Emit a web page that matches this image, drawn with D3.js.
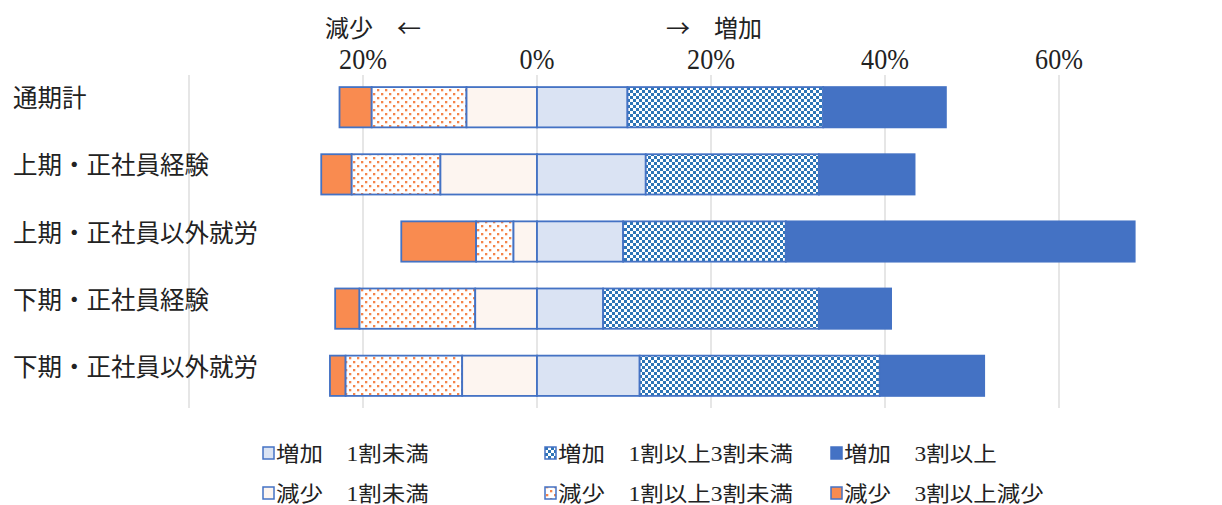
<!DOCTYPE html>
<html><head><meta charset="utf-8">
<script src="https://cdn.jsdelivr.net/npm/d3@7"></script>
<style>body{margin:0;background:#fff}svg{display:block}text{font-family:"Liberation Serif","Noto Sans CJK JP",serif;fill:#222}</style>
</head><body><div id="c"></div>
<script>
const categories = ["通期計","上期・正社員経験","上期・正社員以外就労","下期・正社員経験","下期・正社員以外就労"];
const inc1 = [10.4, 12.5, 9.9, 7.6, 11.8];   // 増加 1割未満
const inc13 = [22.5, 19.9, 18.7, 24.8, 27.6]; // 増加 1割以上3割未満
const inc3 = [14.1, 11.0, 40.1, 8.3, 12.0];   // 増加 3割以上
const dec1 = [8.1, 11.1, 2.7, 7.1, 8.6];      // 減少 1割未満
const dec13 = [10.9, 10.2, 4.3, 13.3, 13.4];  // 減少 1割以上3割未満
const dec3 = [3.7, 3.5, 8.6, 2.8, 1.8];       // 減少 3割以上減少
const tickValues = [-40, -20, 0, 20, 40, 60];
const tickLabels = ["", "20%", "0%", "20%", "40%", "60%"];
const legendLabels = ["増加　1割未満","増加　1割以上3割未満","増加　3割以上","減少　1割未満","減少　1割以上3割未満","減少　3割以上減少"];

const W = 1222, H = 505;
const svg = d3.select("#c").append("svg").attr("width", W).attr("height", H);
const defs = svg.append("defs");
const pd = defs.append("pattern").attr("id","dots").attr("patternUnits","userSpaceOnUse").attr("width",8).attr("height",8);
pd.append("rect").attr("width",8).attr("height",8).attr("fill","#fff");
pd.append("rect").attr("x",1).attr("y",1).attr("width",2.3).attr("height",2.3).attr("fill","#F4844A");
pd.append("rect").attr("x",5).attr("y",5).attr("width",2.3).attr("height",2.3).attr("fill","#F4844A");
const pc = defs.append("pattern").attr("id","check").attr("patternUnits","userSpaceOnUse").attr("width",6).attr("height",6);
pc.append("rect").attr("width",6).attr("height",6).attr("fill","#fff");
pc.append("rect").attr("x",0).attr("y",0).attr("width",3).attr("height",3).attr("fill","#2E75B6");
pc.append("rect").attr("x",3).attr("y",3).attr("width",3).attr("height",3).attr("fill","#2E75B6");

const x = d3.scaleLinear().domain([-40, 70]).range([189, 1146]);
const y = d3.scaleBand().domain(categories).range([75, 408]).paddingInner(0.4).paddingOuter(0.18);

// gridlines
svg.append("g").selectAll("line").data(tickValues).join("line")
  .attr("x1", d => x(d)).attr("x2", d => x(d)).attr("y1", 75).attr("y2", 408)
  .attr("stroke", "#d9d9d9").attr("stroke-width", 1.3);

// tick labels
svg.append("g").selectAll("text").data(tickValues).join("text")
  .attr("transform", d => `translate(${x(d)},69) scale(0.9,1)`)
  .attr("text-anchor","middle").attr("font-size", 29)
  .text((d,i) => tickLabels[i]);

svg.append("text").attr("x", 325).attr("y", 37).attr("font-size", 24)
  .style("font-family", '"Noto Sans CJK JP"').text("減少　←");
svg.append("text").attr("x", 666).attr("y", 37).attr("font-size", 24)
  .style("font-family", '"Noto Sans CJK JP"').text("→　増加");

// segments
const series = [
  {vals: dec3, fill: "#F98B50", side: -1, lvl: 2},
  {vals: dec13, fill: "url(#dots)", side: -1, lvl: 1},
  {vals: dec1, fill: "#FDF5F0", side: -1, lvl: 0},
  {vals: inc1, fill: "#DAE3F3", side: 1, lvl: 0},
  {vals: inc13, fill: "url(#check)", side: 1, lvl: 1},
  {vals: inc3, fill: "#4472C4", side: 1, lvl: 2}
];
const segs = [];
categories.forEach((c, i) => {
  const neg = [dec1[i], dec13[i], dec3[i]];
  const pos = [inc1[i], inc13[i], inc3[i]];
  series.forEach(s => {
    const arr = s.side < 0 ? neg : pos;
    const start = d3.sum(arr.slice(0, s.lvl));
    const end = start + arr[s.lvl];
    const a = s.side * start, b = s.side * end;
    segs.push({cat: c, x0: Math.min(a, b), x1: Math.max(a, b), fill: s.fill});
  });
});
svg.append("g").selectAll("rect").data(segs).join("rect")
  .attr("x", d => x(d.x0)).attr("width", d => x(d.x1) - x(d.x0))
  .attr("y", d => y(d.cat)).attr("height", y.bandwidth())
  .attr("fill", d => d.fill).attr("stroke", "#4472C4").attr("stroke-width", 1.8);

// category labels
svg.append("g").selectAll("text").data(categories).join("text")
  .attr("x", 13).attr("y", d => y(d) + y.bandwidth()/2).attr("font-size", 24.5)
  .style("font-family", '"Noto Sans CJK JP"')
  .text(d => d);

// legend
const legendFills = ["#DAE3F3","url(#check)","#4472C4","#FDF5F0","url(#dots)","#F98B50"];
const lx = [263, 545, 831];
const ly = [453, 493];
const lg = svg.append("g").selectAll("g").data(legendLabels).join("g")
  .attr("transform", (d,i) => `translate(${lx[i%3]},${ly[Math.floor(i/3)]})`);
lg.append("rect").attr("x", 0).attr("y", -6).attr("width", 11).attr("height", 12)
  .attr("fill", (d,i) => legendFills[i]).attr("stroke", "#4472C4").attr("stroke-width", 1.5);
lg.append("text").attr("transform", "translate(13,8) scale(1.12,1)").attr("font-size", 21).text(d => d);
</script></body></html>
